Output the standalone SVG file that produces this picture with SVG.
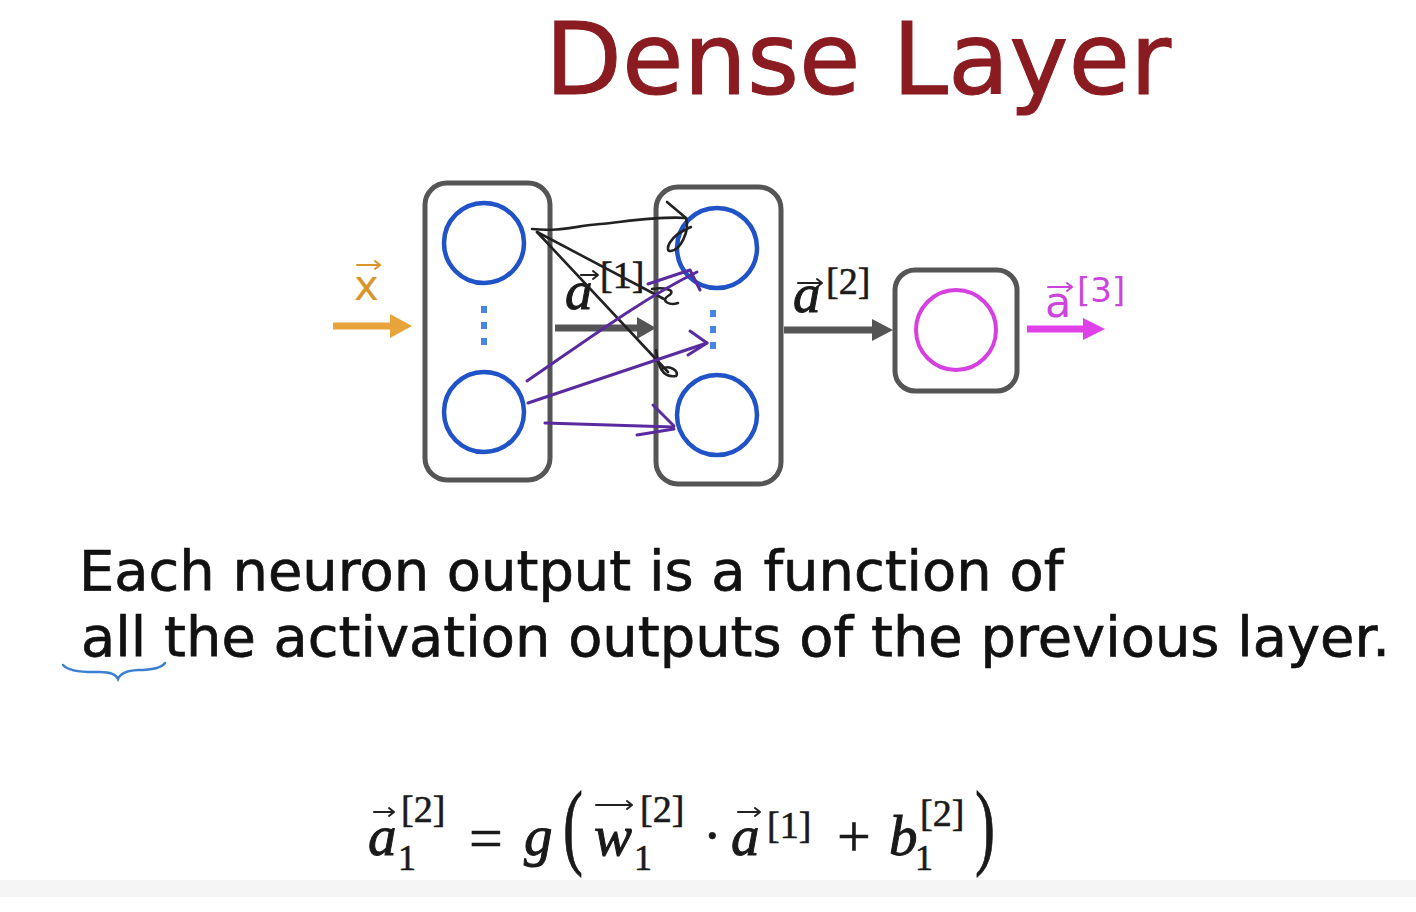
<svg xmlns="http://www.w3.org/2000/svg" width="1416" height="912" viewBox="0 0 1416 912">
<defs>
<style>
.box{fill:#fff;stroke:#555;stroke-width:5}
.neu{fill:none;stroke:#2052c8;stroke-width:4.5}
.dot{fill:#4a84e4}
.ink{fill:none;stroke:#222;stroke-width:2.6;stroke-linecap:round;stroke-linejoin:round}
.pur{fill:none;stroke:#5a2aa0;stroke-width:3;stroke-linecap:round;stroke-linejoin:round}
.vec{fill:none;stroke:#222;stroke-width:2;stroke-linecap:round;stroke-linejoin:round}
.math{font-family:"Liberation Serif","DejaVu Serif",serif;fill:#1a1a1a;stroke:#1a1a1a;stroke-width:0.6}
.it{font-style:italic;stroke-width:1}
.sans{font-family:"DejaVu Sans","Noto Sans",sans-serif}
.body{font-family:"DejaVu Sans","Noto Sans",sans-serif;font-size:55.9px;fill:#111;stroke:#111;stroke-width:0.7}
</style>
</defs>
<rect width="1416" height="912" fill="#fff"/>
<rect x="0" y="880" width="1416" height="17" fill="#f5f5f5"/>

<g id="title">
<text x="545" y="94" class="sans" font-size="100" fill="#8a1b20" stroke="#8a1b20" stroke-width="1">Dense Layer</text>
</g>

<g id="input-label">
<text x="354" y="300" class="sans" font-size="42" fill="#d9952c">x</text>
<path d="M357,265 H380 M375,261 L380,265 L375,269" fill="none" stroke="#d9952c" stroke-width="2" stroke-linecap="round"/>
</g>

<g id="layer1">
<rect class="box" x="425" y="183" width="125" height="297" rx="22"/>
<circle class="neu" cx="484" cy="243" r="40"/>
<rect class="dot" x="481" y="306" width="6" height="7"/>
<rect class="dot" x="481" y="322" width="6" height="7"/>
<rect class="dot" x="481" y="338" width="6" height="7"/>
<circle class="neu" cx="484" cy="412" r="40"/>
</g>

<g id="layer2">
<rect class="box" x="656" y="187" width="125" height="297" rx="22"/>
<circle class="neu" cx="717" cy="248" r="40"/>
<rect class="dot" x="710" y="310" width="6" height="7"/>
<rect class="dot" x="710" y="326" width="6" height="7"/>
<rect class="dot" x="710" y="342" width="6" height="7"/>
<circle class="neu" cx="717" cy="415" r="40"/>
</g>

<g id="output">
<rect class="box" x="895" y="270" width="122" height="121" rx="20"/>
<circle cx="956" cy="330" r="40" fill="none" stroke="#d63fe0" stroke-width="4"/>
</g>

<g id="connectors">
<path d="M333,326 H393" stroke="#e8a33a" stroke-width="7" fill="none"/>
<path d="M390,314 L412,326 L390,338 Z" fill="#e8a33a"/>
<path d="M555,328 H640" stroke="#555" stroke-width="7" fill="none"/>
<path d="M637,317 L656,328 L637,339 Z" fill="#555"/>
<path d="M784,330 H875" stroke="#555" stroke-width="7" fill="none"/>
<path d="M872,319 L893,330 L872,341 Z" fill="#555"/>
<path d="M1027,329 H1086" stroke="#e040e8" stroke-width="7" fill="none"/>
<path d="M1083,318 L1105,329 L1083,340 Z" fill="#e040e8"/>
</g>

<g id="layer-labels">
<text x="565" y="309" class="math it" font-size="55">a</text>
<text x="600" y="288" class="math" font-size="38">[1]</text>
<path class="vec" d="M581,275 H598 M593,271 L598,275 L593,279"/>
<text x="793" y="312" class="math it" font-size="55">a</text>
<text x="826" y="294" class="math" font-size="38">[2]</text>
<path class="vec" d="M798,283 H822 M817,279 L822,283 L817,287"/>
<text x="1045" y="317" class="sans" font-size="43" fill="#cc44dd">a</text>
<text x="1077" y="302" class="sans" font-size="34" fill="#cc44dd">[3]</text>
<path d="M1048,287 H1072 M1067,283 L1072,287 L1067,291" fill="none" stroke="#cc44dd" stroke-width="2" stroke-linecap="round"/>
</g>

<g id="annotations">
<path class="ink" d="M532,229 C560,232 575,226 600,224 C630,221 660,216 686,218"/>
<path class="ink" d="M667,202 L686,218 C690,232 680,250 671,251 C664,252 668,236 691,227"/>
<path class="ink" d="M537,232 L664,299"/>
<path class="ink" d="M652,289 C664,287 678,290 668,296 C660,301 670,306 678,303"/>
<path class="ink" d="M537,232 L668,372"/>
<path class="ink" d="M656,350 C658,366 662,378 676,376 C680,372 670,364 662,369"/>
<path class="pur" d="M527,381 C580,345 640,300 697,272"/>
<path class="pur" d="M648,284 L690,270 L700,290" stroke-width="4"/>
<path class="pur" d="M528,403 L707,343"/>
<path class="pur" d="M690,331 L707,343 L688,355"/>
<path class="pur" d="M545,423 L673,427"/>
<path class="pur" d="M653,405 L674,426 M637,435 L674,429"/>
</g>

<g id="statement">
<text x="79" y="590" class="body">Each neuron output is a function of</text>
<text x="81" y="656" class="body">all the activation outputs of the previous layer.</text>
<path d="M63,665 Q70,673 100,672 Q115,672 118,679 Q121,671 138,670 Q160,670 165,663" fill="none" stroke="#3a80d0" stroke-width="2.5" stroke-linecap="round"/>
</g>

<g id="equation">
<text x="368" y="855" class="math it" font-size="57">a</text>
<path class="vec" d="M374,812 H394 M389,808 L394,812 L389,816"/>
<text x="398" y="870" class="math" font-size="36">1</text>
<text x="401" y="822" class="math" font-size="38">[2]</text>
<text x="469" y="858" class="math" font-size="60">=</text>
<text x="524" y="855" class="math it" font-size="57">g</text>
<text class="math" font-size="60" stroke-width="0.3" transform="translate(563,857) scale(1,1.58)">(</text>
<text x="594" y="855" class="math it" font-size="57">w</text>
<path class="vec" d="M596,805 H632 M627,801 L632,805 L627,809"/>
<text x="634" y="870" class="math" font-size="36">1</text>
<text x="640" y="822" class="math" font-size="38">[2]</text>
<text x="703" y="855" class="math" font-size="56">·</text>
<text x="731" y="855" class="math it" font-size="57">a</text>
<path class="vec" d="M738,812 H760 M755,808 L760,812 L755,816"/>
<text x="767" y="838" class="math" font-size="38">[1]</text>
<text x="837" y="856" class="math" font-size="60">+</text>
<text x="889" y="855" class="math it" font-size="57">b</text>
<text x="915" y="870" class="math" font-size="36">1</text>
<text x="920" y="826" class="math" font-size="38">[2]</text>
<text class="math" font-size="60" stroke-width="0.3" transform="translate(975,857) scale(1,1.58)">)</text>
</g>
</svg>
